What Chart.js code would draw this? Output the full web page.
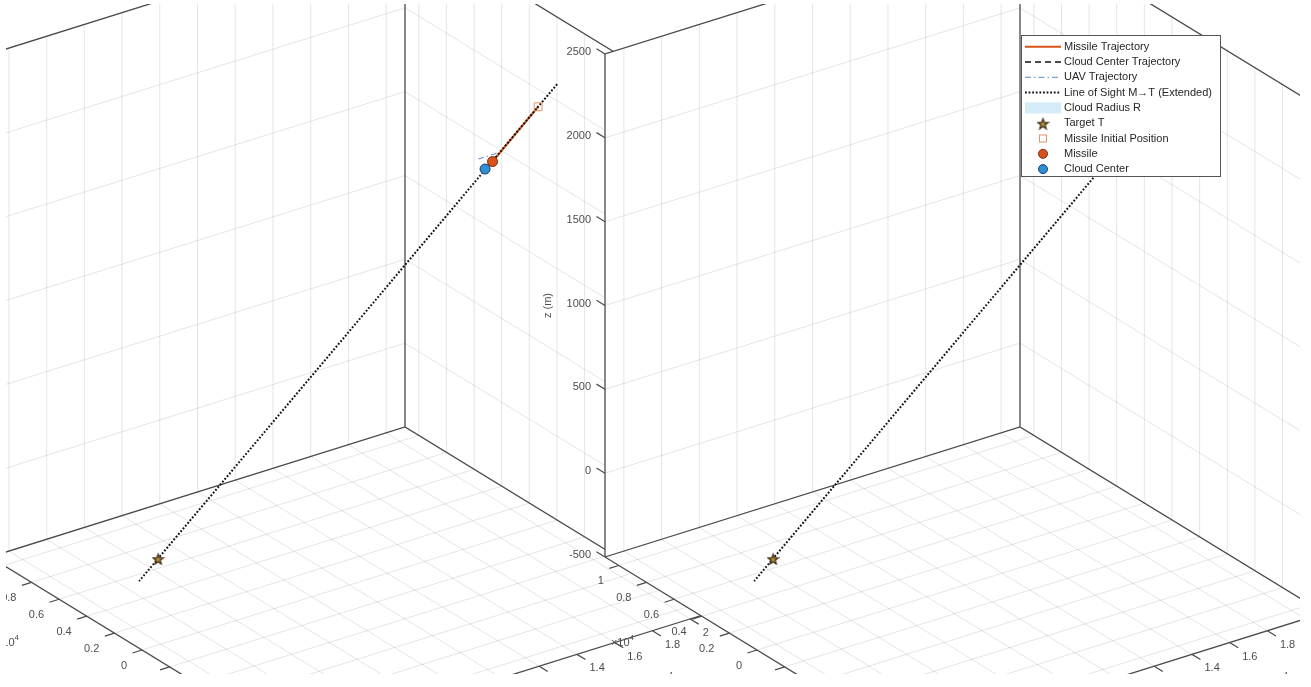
<!DOCTYPE html>
<html>
<head>
<meta charset="utf-8">
<title>Missile, UAV and smoke cloud - 3D view</title>
<script src="https://cdn.jsdelivr.net/npm/chart.js@4.4.1/dist/chart.umd.min.js"></script>
<style>
  html, body { margin: 0; padding: 0; background: #fff; }
  #wrap { width: 1311px; height: 687px; }
</style>
</head>
<body>
<div id="wrap"><canvas id="chartId" width="1311" height="687"></canvas></div>
<script>
// axis limits (metres)
const xLim = [-1000, 21000];
const yLim = [-11000, 11000];
const zLim = [-500, 2500];

// ticks and their labels (x, y shown as x10^4)
const xTicks = [0, 2000, 4000, 6000, 8000, 10000, 12000, 14000, 16000, 18000, 20000];
const xTickLabels = ["0", "0.2", "0.4", "0.6", "0.8", "1", "1.2", "1.4", "1.6", "1.8", "2"];
const yTicks = [-10000, -8000, -6000, -4000, -2000, 0, 2000, 4000, 6000, 8000, 10000];
const yTickLabels = ["-1", "-0.8", "-0.6", "-0.4", "-0.2", "0", "0.2", "0.4", "0.6", "0.8", "1"];
const zTicks = [-500, 0, 500, 1000, 1500, 2000, 2500];
const zTickLabels = ["-500", "0", "500", "1000", "1500", "2000", "2500"];

// scene data (x, y, z in metres)
const missileTrack = [[20000, 0, 2000], [17582, 0, 1758]];
const cloudTrack = [[17188, 0, 1736.5], [17188, 0, 1727.5]];
const uavTrack = [[17800, 0, 1800], [16828, 0, 1800]];
const sightLine = [[21000, -10, 2100], [-1000, 210, -100]];
const targetT = [0, 200, 0];
const missileStart = [20000, 0, 2000];
const missileNow = [17582, 0, 1758];
const cloudNow = [17188, 0, 1727.5];
const cloudR = 10;

const legendLabels = ["Missile Trajectory", "Cloud Center Trajectory", "UAV Trajectory",
  "Line of Sight M\u2192T (Extended)", "Cloud Radius R", "Target T",
  "Missile Initial Position", "Missile", "Cloud Center"];

// colours
const cMissile = "#D95319";
const cCloud = "#2f8fd4";
const cUav = "#5b87c8";
const cGrid = "rgba(38,38,38,0.12)";
const cBox = "#4a4a4a";
const cText = "#4d4d4d";
const FONT = '"Liberation Sans", Arial, sans-serif';

// view: screen shift over the full range of each axis, and where each box sits
const boxX = [415, -130];
const boxY = [304, 186];
const boxZ = 503;
const panels = [
  { ox: -10, oy: 557 },
  { ox: 605, oy: 557 }
];
// visible part of the figure (the rest is cut off)
const frame = { left: 6, top: 4, right: 1300, bottom: 674 };

function proj(p, pan) {
  const u = (p[0] - xLim[0]) / (xLim[1] - xLim[0]);
  const v = (yLim[1] - p[1]) / (yLim[1] - yLim[0]);
  const w = (p[2] - zLim[0]) / (zLim[1] - zLim[0]);
  return { x: pan.ox + u * boxX[0] + v * boxY[0], y: pan.oy + u * boxX[1] + v * boxY[1] - w * boxZ };
}

function unit(v) {
  const n = Math.hypot(v[0], v[1]);
  return [v[0] / n, v[1] / n];
}

// polylines (lists of 3D points) -> one data array with gaps between them
function polys(list, pan) {
  const out = [];
  list.forEach((pl, i) => {
    if (i) out.push({ x: null, y: null });
    pl.forEach(p => out.push(proj(p, pan)));
  });
  return out;
}

// pentagram marker for the target
function makeStar(size) {
  const c = document.createElement("canvas");
  c.width = size; c.height = size;
  const g = c.getContext("2d");
  const r = size / 2 - 1, ri = r * 0.4, m = size / 2;
  g.beginPath();
  for (let k = 0; k < 10; k++) {
    const a = -Math.PI / 2 + k * Math.PI / 5;
    const rr = k % 2 ? ri : r;
    g.lineTo(m + rr * Math.cos(a), m + 1 + rr * Math.sin(a));
  }
  g.closePath();
  g.fillStyle = "#b08a3a";
  g.fill();
  g.strokeStyle = "#3b2a14";
  g.lineWidth = 1.2;
  g.stroke();
  return c;
}
const starImg = makeStar(13);

const datasets = [];
let seq = 0;
function add(ds) {
  ds.order = -(seq++);
  if (ds.pointRadius === undefined) ds.pointRadius = 0;
  ds.tension = 0;
  ds.clip = 0;
  datasets.push(ds);
}

panels.forEach(pan => {
  const [x0, x1] = xLim, [y0, y1] = yLim, [z0, z1] = zLim;

  // white box (hides whatever lies behind it)
  add({
    data: polys([[[x0, y1, z1], [x1, y1, z1], [x1, y0, z1], [x1, y0, z0], [x0, y0, z0], [x0, y1, z0], [x0, y1, z1]]], pan),
    borderWidth: 0, borderColor: "rgba(0,0,0,0)", backgroundColor: "#ffffff", fill: "shape"
  });

  // grid on the two back walls and the floor
  const grid = [];
  xTicks.forEach(x => { grid.push([[x, y1, z0], [x, y1, z1]]); grid.push([[x, y0, z0], [x, y1, z0]]); });
  yTicks.forEach(y => { grid.push([[x1, y, z0], [x1, y, z1]]); grid.push([[x0, y, z0], [x1, y, z0]]); });
  zTicks.forEach(z => { grid.push([[x0, y1, z], [x1, y1, z]]); grid.push([[x1, y0, z], [x1, y1, z]]); });
  add({ data: polys(grid, pan), borderColor: cGrid, borderWidth: 1, fill: false });

  // box edges and axis lines
  const box = [
    [[x0, y1, z0], [x0, y1, z1], [x1, y1, z1], [x1, y0, z1], [x1, y0, z0]],
    [[x1, y1, z0], [x1, y1, z1]],
    [[x0, y1, z0], [x1, y1, z0], [x1, y0, z0]],
    [[x0, y1, z0], [x0, y0, z0], [x1, y0, z0]]
  ];
  add({ data: polys(box, pan), borderColor: cBox, borderWidth: 1.3, fill: false });

  // tick marks
  const ux = unit(boxX), uy = unit(boxY), L = 10;
  const ticks = [];
  zTicks.forEach(z => { const p = proj([x0, y1, z], pan); ticks.push(p, { x: p.x - L * uy[0], y: p.y - L * uy[1] }, { x: null, y: null }); });
  yTicks.forEach(y => { const p = proj([x0, y, z0], pan); ticks.push(p, { x: p.x - L * ux[0], y: p.y - L * ux[1] }, { x: null, y: null }); });
  xTicks.forEach(x => { const p = proj([x, y0, z0], pan); ticks.push(p, { x: p.x + L * uy[0], y: p.y + L * uy[1] }, { x: null, y: null }); });
  add({ data: ticks, borderColor: cBox, borderWidth: 1.2, fill: false });

  // trajectories
  add({ data: polys([missileTrack], pan), borderColor: cMissile, borderWidth: 2, fill: false });
  add({ data: polys([cloudTrack], pan), borderColor: "#111", borderWidth: 1.5, borderDash: [6, 4], fill: false });
  add({ data: polys([uavTrack], pan), borderColor: cUav, borderWidth: 1, borderDash: [6, 3, 1.5, 3], fill: false });
  add({ data: polys([sightLine], pan), borderColor: "#111", borderWidth: 2, borderDash: [1.8, 1.8], fill: false });

  // markers
  add({ data: [proj(cloudNow, pan)], showLine: false, pointRadius: cloudR * boxZ / (zLim[1] - zLim[0]),
    pointBackgroundColor: "rgba(170,220,245,0.6)", pointBorderWidth: 0 });
  add({ data: [proj(targetT, pan)], showLine: false, pointRadius: 6, pointStyle: starImg });
  add({ data: [proj(missileStart, pan)], showLine: false, pointRadius: 5.5, pointStyle: "rect",
    pointBackgroundColor: "rgba(255,255,255,0)", pointBorderColor: "#e39467", pointBorderWidth: 1 });
  add({ data: [proj(missileNow, pan)], showLine: false, pointRadius: 5, pointStyle: "circle",
    pointBackgroundColor: cMissile, pointBorderColor: "#7a2e10", pointBorderWidth: 1 });
  add({ data: [proj(cloudNow, pan)], showLine: false, pointRadius: 5, pointStyle: "circle",
    pointBackgroundColor: cCloud, pointBorderColor: "#163f6b", pointBorderWidth: 1 });
});

// draws "x10^4" with its right edge at x
function drawExp(ctx, x, y) {
  ctx.textAlign = "right";
  ctx.font = "8px " + FONT;
  ctx.fillText("4", x, y - 5);
  const w4 = ctx.measureText("4").width;
  ctx.font = "11px " + FONT;
  ctx.fillText("\u00d710", x - w4, y);
}

// tick labels, exponents and z label
const labelPlugin = {
  id: "axisText",
  afterDatasetsDraw(chart) {
    const ctx = chart.ctx, sx = chart.scales.x, sy = chart.scales.y, a = chart.chartArea;
    const px = p => ({ x: sx.getPixelForValue(p.x), y: sy.getPixelForValue(p.y) });
    ctx.save();
    ctx.beginPath();
    ctx.rect(a.left, a.top, a.right - a.left, a.bottom - a.top);
    ctx.clip();
    ctx.fillStyle = cText;
    ctx.textBaseline = "middle";
    panels.forEach(pan => {
      ctx.font = "11px " + FONT;
      ctx.textAlign = "right";
      zTicks.forEach((z, i) => {
        const p = px(proj([xLim[0], yLim[1], z], pan));
        ctx.fillText(zTickLabels[i], p.x - 14, p.y - 2);
      });
      yTicks.forEach((y, i) => {
        const p = px(proj([xLim[0], y, zLim[0]], pan));
        ctx.fillText(yTickLabels[i], p.x - 15, p.y + 15.5);
      });
      ctx.textAlign = "left";
      xTicks.forEach((x, i) => {
        const p = px(proj([x, yLim[0], zLim[0]], pan));
        ctx.fillText(xTickLabels[i], p.x + 12.5, p.y + 14);
      });

      // exponents of the y and x axes
      const c = px(proj([xLim[0], yLim[1], zLim[0]], pan));
      drawExp(ctx, c.x + 29, c.y + 86);
      drawExp(ctx, c.x + 683, c.y + 123);

      // z (m)
      const zt = px(proj([xLim[0], yLim[1], zLim[1]], pan));
      ctx.save();
      ctx.font = "11px " + FONT;
      ctx.translate(c.x - 57, (c.y + zt.y) / 2);
      ctx.rotate(-Math.PI / 2);
      ctx.textAlign = "center";
      ctx.fillText("z (m)", 0, 0);
      ctx.restore();
    });
    ctx.restore();
  }
};

// legend box in the right-hand view
const legendPlugin = {
  id: "sceneLegend",
  afterDraw(chart) {
    const ctx = chart.ctx;
    const bx = 1021, by = 35, bw = 199, bh = 141;
    ctx.save();
    ctx.fillStyle = "#fff";
    ctx.fillRect(bx, by, bw, bh);
    ctx.strokeStyle = "#555";
    ctx.lineWidth = 1;
    ctx.strokeRect(bx + 0.5, by + 0.5, bw, bh);
    const x0 = 1025, x1 = 1061, xm = 1043, xt = 1064;
    legendLabels.forEach((lab, i) => {
      const y = 46.7 + i * 15.3;
      ctx.setLineDash([]);
      if (i === 0) {
        ctx.strokeStyle = cMissile; ctx.lineWidth = 2;
        ctx.beginPath(); ctx.moveTo(x0, y); ctx.lineTo(x1, y); ctx.stroke();
      } else if (i === 1) {
        ctx.strokeStyle = "#111"; ctx.lineWidth = 1.5; ctx.setLineDash([6, 4]);
        ctx.beginPath(); ctx.moveTo(x0, y); ctx.lineTo(x1, y); ctx.stroke();
      } else if (i === 2) {
        ctx.strokeStyle = cUav; ctx.lineWidth = 1; ctx.setLineDash([6, 3, 1.5, 3]);
        ctx.beginPath(); ctx.moveTo(x0, y); ctx.lineTo(x1, y); ctx.stroke();
      } else if (i === 3) {
        ctx.strokeStyle = "#111"; ctx.lineWidth = 2; ctx.setLineDash([1.8, 1.8]);
        ctx.beginPath(); ctx.moveTo(x0, y); ctx.lineTo(x1, y); ctx.stroke();
      } else if (i === 4) {
        ctx.fillStyle = "#d3ecf8";
        ctx.fillRect(x0, y - 5.5, x1 - x0, 11);
      } else if (i === 5) {
        ctx.drawImage(starImg, xm - starImg.width / 2, y - starImg.height / 2);
      } else if (i === 6) {
        ctx.strokeStyle = "#e39467"; ctx.lineWidth = 1;
        ctx.strokeRect(xm - 3.5, y - 3.5, 7, 7);
      } else {
        ctx.beginPath(); ctx.arc(xm, y, 4.5, 0, Math.PI * 2);
        ctx.fillStyle = i === 7 ? cMissile : cCloud; ctx.fill();
        ctx.strokeStyle = i === 7 ? "#7a2e10" : "#163f6b"; ctx.lineWidth = 1; ctx.stroke();
      }
      ctx.setLineDash([]);
      ctx.fillStyle = "#262626";
      ctx.font = "11px " + FONT;
      ctx.textAlign = "left";
      ctx.textBaseline = "middle";
      ctx.fillText(lab, xt, y);
    });
    ctx.restore();
  }
};

const chrt = document.getElementById("chartId").getContext("2d");
const chartId = new Chart(chrt, {
  type: "line",
  data: { datasets: datasets },
  options: {
    responsive: false,
    animation: false,
    events: [],
    layout: {
      autoPadding: false,
      padding: { left: frame.left, top: frame.top, right: 1311 - frame.right, bottom: 687 - frame.bottom }
    },
    plugins: { legend: { display: false }, tooltip: { enabled: false } },
    scales: {
      x: { type: "linear", min: frame.left, max: frame.right, display: false },
      y: { type: "linear", min: frame.top, max: frame.bottom, reverse: true, display: false }
    }
  },
  plugins: [labelPlugin, legendPlugin]
});
</script>
</body>
</html>
